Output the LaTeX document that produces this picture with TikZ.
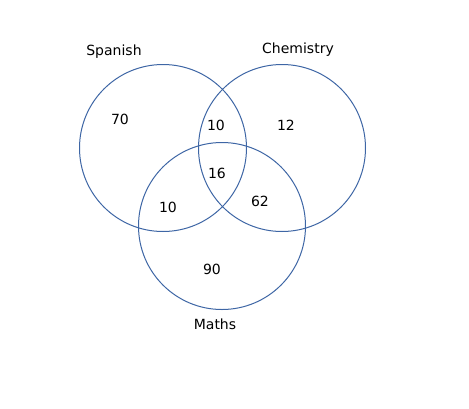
\documentclass[tikz,border=0pt]{standalone}
\usepackage{fontspec}
\setmainfont{DejaVu Sans}
\usepackage{tikz}
\definecolor{vennblue}{RGB}{62,102,165}

\begin{document}
\begin{tikzpicture}[x=1pt, y=-1pt, font=\fontsize{14}{17}\selectfont,
    set/.style={draw=vennblue, line width=1pt}]

    % 画布大小
    \useasboundingbox (0,0) rectangle (469,408);

    % ================= 三个集合 =================
    \coordinate (S) at (163,148);
    \coordinate (C) at (282,148);
    \coordinate (M) at (222,226);

    \draw[set] (S) circle[radius=83.5];
    \draw[set] (C) circle[radius=83.5];
    \draw[set] (M) circle[radius=83.5];

    % 集合名称
    \node (spanish) at (114,52) {Spanish};
    \node (chemistry) at (298,50) {Chemistry};
    \node (maths) at (215,324) {Maths};

    % ================= 各区域人数 =================
    \node (nS) at (120,119.5) {70};
    \node (nSC) at (216,125.5) {10};
    \node (nC) at (286,125.5) {12};
    \node (nSCM) at (217,173.5) {16};
    \node (nSM) at (168,207.5) {10};
    \node (nCM) at (260,201.5) {62};
    \node (nM) at (212,269.5) {90};

\end{tikzpicture}
\end{document}
